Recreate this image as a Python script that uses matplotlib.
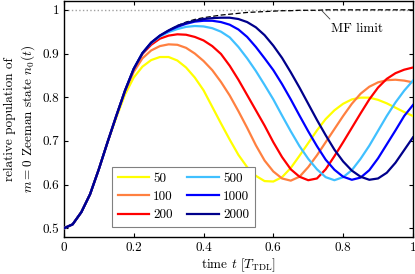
import numpy as np
import matplotlib
matplotlib.use('Agg')
import matplotlib.pyplot as plt
from matplotlib.ticker import FuncFormatter

plt.rcParams['font.family'] = 'serif'
plt.rcParams['font.serif'] = ['cmr10']
plt.rcParams['mathtext.fontset'] = 'cm'
plt.rcParams['axes.formatter.use_mathtext'] = True
plt.rcParams['font.size'] = 9.5

# time grid in units of T_TDL
t = np.linspace(0, 1, 41)

# shared early rise (t = 0 .. 0.15)
rise = [0.500, 0.509, 0.537, 0.578, 0.635, 0.697, 0.757]

n0_50 = rise[:6] + [0.753, 0.806,
    0.845, 0.870, 0.885, 0.892, 0.892, 0.884, 0.868, 0.845, 0.816, 0.778, 0.740, 0.703,
    0.668, 0.640, 0.620, 0.608, 0.607, 0.617, 0.638, 0.666, 0.695, 0.724, 0.750,
    0.770, 0.785, 0.795, 0.799, 0.799, 0.794, 0.786, 0.776, 0.766, 0.757]
n0_100 = rise + [0.813,
    0.858, 0.889, 0.907, 0.917, 0.921, 0.920, 0.913, 0.900, 0.883, 0.862, 0.835, 0.804,
    0.768, 0.730, 0.690, 0.655, 0.630, 0.614, 0.609, 0.618, 0.640, 0.667, 0.697,
    0.727, 0.757, 0.785, 0.808, 0.824, 0.834, 0.839, 0.840, 0.838, 0.834]
n0_200 = rise + [0.815,
    0.864, 0.899, 0.920, 0.934, 0.941, 0.944, 0.943, 0.938, 0.930, 0.917, 0.899, 0.872,
    0.840, 0.805, 0.770, 0.735, 0.697, 0.663, 0.635, 0.618, 0.610, 0.614, 0.635,
    0.665, 0.697, 0.730, 0.763, 0.795, 0.822, 0.842, 0.855, 0.863, 0.868]
n0_500 = rise + [0.815,
    0.865, 0.901, 0.924, 0.939, 0.949, 0.956, 0.961, 0.963, 0.962, 0.958, 0.950, 0.937,
    0.915, 0.889, 0.860, 0.828, 0.795, 0.758, 0.722, 0.688, 0.659, 0.635, 0.617,
    0.610, 0.617, 0.633, 0.659, 0.689, 0.723, 0.757, 0.788, 0.815, 0.838]
n0_1000 = rise + [0.815,
    0.865, 0.901, 0.925, 0.941, 0.952, 0.961, 0.968, 0.973, 0.975, 0.975, 0.972, 0.966,
    0.955, 0.938, 0.915, 0.889, 0.862, 0.830, 0.795, 0.758, 0.722, 0.688, 0.657,
    0.634, 0.618, 0.611, 0.616, 0.633, 0.660, 0.692, 0.724, 0.757, 0.782]
n0_2000 = rise + [0.815,
    0.865, 0.901, 0.925, 0.941, 0.953, 0.963, 0.970, 0.975, 0.979, 0.981, 0.982, 0.982,
    0.979, 0.972, 0.960, 0.942, 0.918, 0.890, 0.857, 0.822, 0.785, 0.748, 0.713,
    0.680, 0.653, 0.632, 0.618, 0.611, 0.614, 0.627, 0.650, 0.679, 0.708]
n0_mf = rise + [0.815,
    0.865, 0.901, 0.925, 0.941, 0.953, 0.964, 0.972, 0.978, 0.982, 0.985, 0.988, 0.990,
    0.992, 0.994, 0.995, 0.996, 0.997, 0.998, 0.998, 0.999, 0.999, 0.999, 1.0,
    1.0, 1.0, 1.0, 1.0, 1.0, 1.0, 1.0, 1.0, 1.0, 1.0]

labels = ['50', '100', '200', '500', '1000', '2000']
series = [n0_50, n0_100, n0_200, n0_500, n0_1000, n0_2000]
colors = ['#ffff00', '#ff8040', '#ff0000', '#40c0ff', '#0000ff', '#00008b']

fig = plt.figure(figsize=(4.15, 2.74), dpi=100)
ax = fig.add_axes([0.154, 0.135, 0.841, 0.861])

ax.axhline(1.0, color='#a0a0a0', ls=':', lw=1.0, zorder=1)
ax.plot(t, n0_mf, color='black', ls='--', lw=0.9, dashes=(4, 2), zorder=2)
for lab, y, c in zip(labels, series, colors):
    ax.plot(t, y, color=c, lw=1.6, label=lab, zorder=3)

ax.plot([0.738, 0.762], [0.999, 0.979], color='#404040', lw=0.6)
ax.text(0.765, 0.956, 'MF limit', ha='left', va='center')

ax.set_xlim(0, 1)
ax.set_ylim(0.48, 1.02)
ax.set_xticks([0, 0.2, 0.4, 0.6, 0.8, 1])
ax.set_yticks([0.5, 0.6, 0.7, 0.8, 0.9, 1])
fmt = FuncFormatter(lambda v, p: '%g' % v)
ax.xaxis.set_major_formatter(fmt)
ax.yaxis.set_major_formatter(fmt)
ax.tick_params(direction='in', top=True, right=True, length=3, width=0.8)
for s in ax.spines.values():
    s.set_linewidth(1.0)

ax.set_xlabel('time $t$ [$T_{\\mathrm{TDL}}$]', labelpad=2)
ax.set_ylabel('relative population of\n$m=0$ Zeeman state $n_0(t)$', labelpad=4)

leg = ax.legend(ncol=2, loc='lower left', bbox_to_anchor=(0.137, 0.042),
                borderaxespad=0, fancybox=False, edgecolor='#808080',
                framealpha=1, handlelength=2.4, handletextpad=0.3,
                columnspacing=1.1, labelspacing=0.45, borderpad=0.45)
leg.get_frame().set_linewidth(0.8)

fig.savefig('out.png', dpi=100)
